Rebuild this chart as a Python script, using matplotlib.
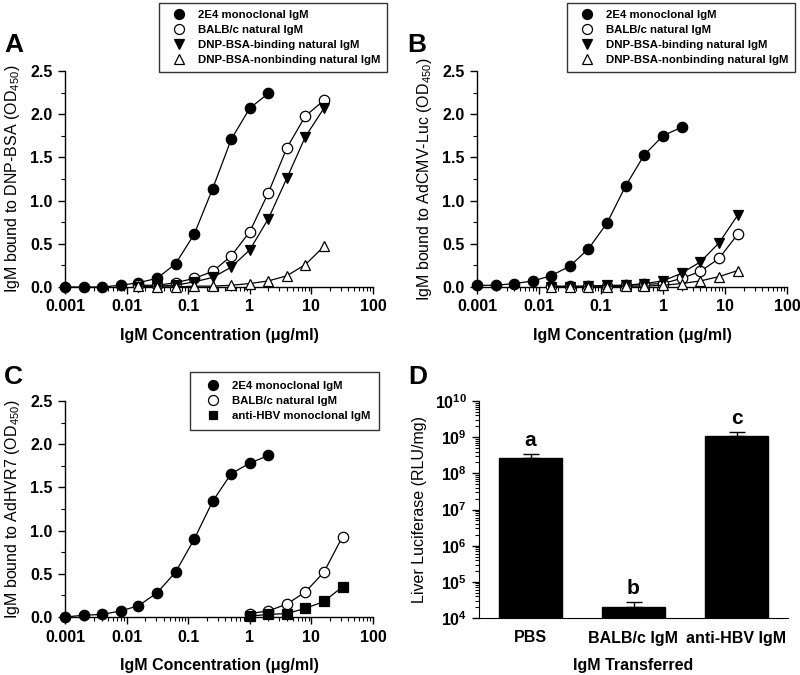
import numpy as np
import matplotlib
matplotlib.use("Agg")
from matplotlib import pyplot as plt
from matplotlib.lines import Line2D
from matplotlib.ticker import FixedLocator, LogLocator, NullFormatter, FuncFormatter

plt.rcParams['font.family'] = ['Liberation Sans', 'DejaVu Sans']
plt.rcParams['mathtext.fontset'] = 'custom'
plt.rcParams['mathtext.rm'] = 'Liberation Sans'
plt.rcParams['mathtext.bf'] = 'Liberation Sans:bold'

# konsantrasyonlar (ug/ml), 2 kat seyreltme
conc_2e4 = [0.001, 0.002, 0.004, 0.008, 0.0156, 0.03125, 0.0625, 0.125, 0.25, 0.5, 1, 2]
conc_nat = [0.0156, 0.03125, 0.0625, 0.125, 0.25, 0.5, 1, 2, 4, 8, 16]
conc_c = [1, 2, 4, 8, 16, 32]

# panel A - DNP-BSA
a_2e4 = [0.0, 0.0, 0.0, 0.02, 0.05, 0.10, 0.27, 0.61, 1.14, 1.71, 2.07, 2.24]
a_balb = [0.02, 0.02, 0.05, 0.10, 0.18, 0.36, 0.64, 1.09, 1.61, 1.98, 2.16]
a_bind = [0.0, 0.01, 0.02, 0.06, 0.11, 0.23, 0.43, 0.79, 1.26, 1.74, 2.07]
a_nonbind = [0.01, 0.0, 0.0, 0.01, 0.01, 0.02, 0.04, 0.07, 0.13, 0.26, 0.47]

# panel B - AdCMV-Luc
b_2e4 = [0.02, 0.02, 0.04, 0.07, 0.13, 0.24, 0.44, 0.74, 1.17, 1.53, 1.75, 1.85]
b_balb = [0.01, 0.01, 0.01, 0.01, 0.02, 0.03, 0.04, 0.10, 0.18, 0.33, 0.61]
b_bind = [0.0, 0.0, 0.01, 0.02, 0.02, 0.04, 0.07, 0.16, 0.29, 0.51, 0.83]
b_nonbind = [0.0, 0.0, 0.0, 0.0, 0.01, 0.01, 0.02, 0.04, 0.07, 0.12, 0.19]

# panel C - AdHVR7
c_2e4 = [0.0, 0.02, 0.03, 0.07, 0.13, 0.28, 0.52, 0.90, 1.34, 1.66, 1.78, 1.87]
c_balb = [0.04, 0.07, 0.15, 0.29, 0.52, 0.93]
c_hbv = [0.01, 0.03, 0.04, 0.10, 0.18, 0.35]

# panel D - karaciger lusiferaz
d_groups = ['PBS', 'BALB/c IgM', 'anti-HBV IgM']
d_values = [2.6e8, 2.0e4, 1.09e9]
d_errors = [0.8e8, 0.76e4, 0.31e9]
d_letters = ['a', 'b', 'c']

W, H = 800, 675
fig = plt.figure(figsize=(W / 100, H / 100), dpi=100)


def px_axes(left, top, right, bottom):
    return fig.add_axes([left / W, 1 - bottom / H, (right - left) / W, (bottom - top) / H])


sty = {
    '2e4': dict(marker='o', mfc='black', mec='black'),
    'balb': dict(marker='o', mfc='white', mec='black'),
    'bind': dict(marker='v', mfc='black', mec='black'),
    'nonbind': dict(marker='^', mfc='white', mec='black'),
    'hbv': dict(marker='s', mfc='black', mec='black'),
}
names = {
    '2e4': '2E4 monoclonal IgM',
    'balb': 'BALB/c natural IgM',
    'bind': 'DNP-BSA-binding natural IgM',
    'nonbind': 'DNP-BSA-nonbinding natural IgM',
    'hbv': 'anti-HBV monoclonal IgM',
}
msize = {'o': 7.5, 'v': 7.5, '^': 7.5, 's': 6.5}


def elisa_panel(ax, series, ylabel):
    for key, x, y in series:
        s = sty[key]
        ax.plot(x, y, color='black', lw=0.9, marker=s['marker'], ms=msize[s['marker']],
                mfc=s['mfc'], mec=s['mec'], mew=0.9, clip_on=False, zorder=3)
    ax.set_xscale('log')
    ax.set_xlim(0.001, 100)
    ax.set_ylim(0, 2.5)
    ax.set_yticks([0, 0.5, 1.0, 1.5, 2.0, 2.5])
    ax.yaxis.set_minor_locator(FixedLocator(np.arange(0.25, 2.5, 0.5)))
    ax.set_yticklabels(['0.0', '0.5', '1.0', '1.5', '2.0', '2.5'], fontweight='bold', fontsize=11.5)
    ax.set_xticks([0.001, 0.01, 0.1, 1, 10, 100])
    ax.set_xticklabels(['0.001', '0.01', '0.1', '1', '10', '100'], fontweight='bold', fontsize=11.5)
    ax.xaxis.set_minor_locator(LogLocator(base=10, subs=np.arange(2, 10)))
    ax.xaxis.set_minor_formatter(NullFormatter())
    ax.set_xlabel('IgM Concentration (\u03bcg/ml)', fontweight='bold', fontsize=11.5, labelpad=10)
    ax.set_ylabel(ylabel, fontsize=11.5, labelpad=6)
    for sp in ['top', 'right']:
        ax.spines[sp].set_visible(False)
    for sp in ['left', 'bottom']:
        ax.spines[sp].set_linewidth(1.0)
    ax.tick_params(which='major', direction='out', length=5, width=1, pad=4)
    ax.tick_params(which='minor', direction='out', length=3, width=0.8)
    ax.patch.set_alpha(0)


def add_legend(ax, keys, right, top, bpad=0.6, fs=8.2):
    handles = [Line2D([], [], ls='none', marker=sty[k]['marker'], ms=msize[sty[k]['marker']] - 0.3,
                      mfc=sty[k]['mfc'], mec=sty[k]['mec'], mew=0.9) for k in keys]
    leg = ax.legend(handles, [names[k] for k in keys], loc='upper right',
                    bbox_to_anchor=(right / W, 1 - top / H), bbox_transform=fig.transFigure,
                    borderaxespad=0, frameon=True, fancybox=False, edgecolor='black',
                    prop={'weight': 'bold', 'size': fs}, handletextpad=0.45,
                    labelspacing=0.45, borderpad=bpad, handlelength=2.4)
    leg.get_frame().set_linewidth(1.0)
    leg.set_zorder(5)


axA = px_axes(65, 71, 373, 287)
elisa_panel(axA, [('2e4', conc_2e4, a_2e4), ('balb', conc_nat, a_balb),
                  ('bind', conc_nat, a_bind), ('nonbind', conc_nat, a_nonbind)],
            'IgM bound to DNP-BSA (OD$_{450}$)')
add_legend(axA, ['2e4', 'balb', 'bind', 'nonbind'], 387, 3)

axB = px_axes(477, 71, 787, 287)
elisa_panel(axB, [('2e4', conc_2e4, b_2e4), ('balb', conc_nat, b_balb),
                  ('bind', conc_nat, b_bind), ('nonbind', conc_nat, b_nonbind)],
            'IgM bound to AdCMV-Luc (OD$_{450}$)')
add_legend(axB, ['2e4', 'balb', 'bind', 'nonbind'], 795, 3)

axC = px_axes(65, 401, 373, 617)
elisa_panel(axC, [('2e4', conc_2e4, c_2e4), ('balb', conc_c, c_balb), ('hbv', conc_c, c_hbv)],
            'IgM bound to AdHVR7 (OD$_{450}$)')
add_legend(axC, ['2e4', 'balb', 'hbv'], 379, 372, bpad=0.8)

# panel D - bar grafik
axD = px_axes(479, 401, 788, 618)
xpos = np.arange(len(d_groups))
axD.bar(xpos, d_values, width=0.61, color='black', edgecolor='black', zorder=2)
axD.errorbar(xpos, d_values, yerr=[[0] * len(d_errors), d_errors], fmt='none',
             ecolor='black', elinewidth=1, capsize=6, capthick=1, zorder=1)
for x, v, e, lt in zip(xpos, d_values, d_errors, d_letters):
    axD.text(x, (v + e) * 1.3, lt, ha='center', va='bottom', fontweight='bold', fontsize=15)
axD.set_yscale('log')
axD.set_ylim(1e4, 1e10)
axD.set_xlim(-0.5, 2.5)
axD.set_yticks([10.0 ** k for k in range(4, 11)])
axD.yaxis.set_major_formatter(FuncFormatter(lambda v, p: r'$\mathbf{10^{%d}}$' % round(np.log10(v))))
axD.yaxis.set_minor_locator(LogLocator(base=10, subs=np.arange(2, 10), numticks=20))
axD.yaxis.set_minor_formatter(NullFormatter())
axD.set_xticks(xpos)
axD.set_xticklabels(d_groups, fontweight='bold', fontsize=11.5)
axD.tick_params(axis='x', length=0, pad=9)
axD.tick_params(axis='y', which='major', direction='out', length=5, width=1, labelsize=11.5)
axD.tick_params(axis='y', which='minor', direction='out', length=3, width=0.8)
axD.set_ylabel('Liver Luciferase (RLU/mg)', fontsize=11.5, labelpad=6)
axD.set_xlabel('IgM Transferred', fontweight='bold', fontsize=11.5, labelpad=9)
for sp in ['top', 'right']:
    axD.spines[sp].set_visible(False)

# panel harfleri
for lab, x, y in [('A', 4, 45), ('B', 407, 45), ('C', 4, 377), ('D', 408, 377)]:
    fig.text(x / W, 1 - y / H, lab, fontsize=19, fontweight='bold', va='center', ha='left')

plt.savefig('out.png', dpi=100)
